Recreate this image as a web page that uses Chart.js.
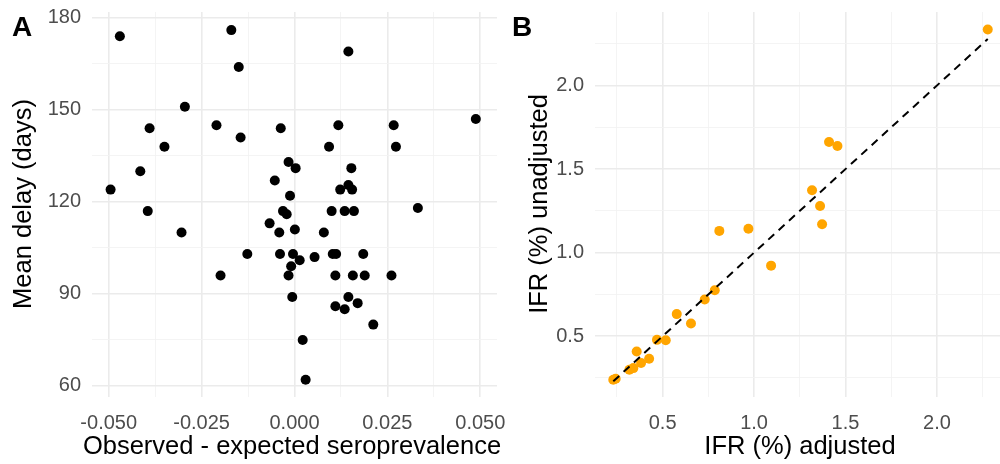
<!DOCTYPE html>
<html>
<head>
<meta charset="utf-8">
<script src="https://cdn.jsdelivr.net/npm/chart.js@4.4.1/dist/chart.umd.min.js"></script>
<style>
  html, body { margin: 0; background: #fff; overflow: hidden; width: 1000px; height: 464px; }
  .panel { position: absolute; top: 0; height: 464px; }
  #wrapA { left: 0; width: 520px; }
  #wrapB { left: 500px; width: 505px; }
</style>
</head>
<body>
<div class="panel" id="wrapA"><canvas id="chartA" width="520" height="464"></canvas></div>
<div class="panel" id="wrapB"><canvas id="chartB" width="505" height="464"></canvas></div>
<script>
// Panel A: observed - expected seroprevalence vs mean delay
var seroDiff = [-0.047, -0.017, -0.015, -0.0295, -0.039, -0.021, -0.035, -0.0145, -0.0415, -0.0495,
  -0.0053, -0.0037, 0.0145, 0.0118, 0.0267, 0.0488, 0.0093, 0.0273, -0.0016, 0.0003,
  0.0153, 0.0123, 0.0145, 0.0155, -0.0012, -0.0395, -0.0304, -0.0199, -0.0127, -0.0067,
  -0.0031, -0.0021, 0.0100, 0.0135, 0.016, 0.0332, -0.0041, 0.0001, 0.0079, -0.0039,
  -0.0004, 0.0014, 0.0054, 0.0103, 0.0112, 0.0185, -0.0009, -0.0016, 0.011, 0.0157,
  0.0189, 0.0261, -0.0006, 0.0145, 0.011, 0.0135, 0.017, 0.0212, 0.0022, 0.003];
var meanDelay = [174, 176, 164, 151, 144, 145, 138, 141, 130, 124,
  127, 144, 169, 145, 145, 147, 138, 138, 133, 131,
  131, 124, 125.5, 124, 122, 117, 110, 96, 103, 113,
  117, 116, 117, 117, 117, 118, 110, 111, 110, 103,
  103, 101, 102, 103, 103, 103, 99, 96, 96, 96,
  96, 96, 89, 89, 86, 85, 87, 80, 75, 62];

// Panel B: IFR adjusted vs unadjusted
var ifrAdjusted = [2.278, 1.41, 1.456, 1.317, 1.361, 1.372, 0.81, 0.969, 1.093, 0.785, 0.73,
  0.577, 0.655, 0.469, 0.517, 0.358, 0.426, 0.382, 0.34, 0.318, 0.243, 0.23];
var ifrUnadjusted = [2.335, 1.662, 1.638, 1.373, 1.279, 1.17, 1.13, 1.143, 0.922, 0.775, 0.719,
  0.632, 0.576, 0.478, 0.476, 0.408, 0.365, 0.339, 0.309, 0.299, 0.245, 0.239];
var identityLine = [0.23, 2.278];

// tick values and labels
var aXMajor = [-0.05, -0.025, 0, 0.025, 0.05];
var aXLabels = ['-0.050', '-0.025', '0.000', '0.025', '0.050'];
var aXMinor = [-0.0375, -0.0125, 0.0125, 0.0375];
var aYMajor = [60, 90, 120, 150, 180];
var aYLabels = ['60', '90', '120', '150', '180'];
var aYMinor = [75, 105, 135, 165];
var bMajor = [0.5, 1.0, 1.5, 2.0];
var bLabels = ['0.5', '1.0', '1.5', '2.0'];
var bMinor = [0.25, 0.75, 1.25, 1.75, 2.25];

var FONT = "'Liberation Sans', Arial, sans-serif";

function isMajor(list, v) {
  for (var i = 0; i < list.length; i++) {
    if (Math.abs(list[i] - v) < 1e-9) return i;
  }
  return -1;
}

function makeAxis(major, labels, minor, min, max, isY, size) {
  var all = major.concat(minor).sort(function(a, b) { return a - b; });
  return {
    type: 'linear',
    min: min,
    max: max,
    border: { display: false },
    grid: {
      drawTicks: false,
      color: function(c) { return isMajor(major, c.tick.value) >= 0 ? '#EBEBEB' : '#F3F3F3'; },
      lineWidth: function(c) { return isMajor(major, c.tick.value) >= 0 ? 1.6 : 0.9; }
    },
    ticks: {
      color: '#4D4D4D',
      font: { family: FONT, size: 20 },
      padding: isY ? 11 : 14,
      maxRotation: 0,
      autoSkip: false,
      callback: function(v) {
        var i = isMajor(major, v);
        return i >= 0 ? labels[i] : '';
      }
    },
    afterBuildTicks: function(scale) {
      scale.ticks = all.map(function(v) { return { value: v }; });
    },
    afterFit: function(scale) {
      if (isY) scale.width = size; else scale.height = size;
      // keep the plot area where the reference has it
      scale.paddingLeft = 0;
      scale.paddingRight = 0;
      scale.paddingTop = 0;
      scale.paddingBottom = 0;
    }
  };
}

function textPlugin(letter, xTitle, yTitle, xTitleX, yTitleX) {
  return {
    id: 'texts' + letter,
    afterDraw: function(chart) {
      var ctx = chart.ctx;
      ctx.save();
      ctx.fillStyle = '#000';
      ctx.font = 'bold 28px ' + FONT;
      ctx.textAlign = 'left';
      ctx.textBaseline = 'alphabetic';
      ctx.fillText(letter, 12, 36);
      ctx.font = '25.5px ' + FONT;
      ctx.textAlign = 'center';
      ctx.textBaseline = 'middle';
      ctx.fillText(xTitle, xTitleX, 447);
      ctx.translate(yTitleX, 204);
      ctx.rotate(-Math.PI / 2);
      ctx.fillText(yTitle, 0, 0);
      ctx.restore();
    }
  };
}

var ptsA = seroDiff.map(function(x, i) { return { x: x, y: meanDelay[i] }; });
var ptsB = ifrAdjusted.map(function(x, i) { return { x: x, y: ifrUnadjusted[i] }; });

new Chart(document.getElementById('chartA').getContext('2d'), {
  type: 'scatter',
  data: {
    datasets: [{
      data: ptsA,
      backgroundColor: '#000',
      borderWidth: 0,
      pointRadius: 5
    }]
  },
  options: {
    responsive: false,
    animation: false,
    // canvas is wider than the panel so the last x label is not cut
    layout: { padding: { top: 12, right: 23, left: 0, bottom: 0 } },
    plugins: { legend: { display: false }, tooltip: { enabled: false } },
    scales: {
      x: makeAxis(aXMajor, aXLabels, aXMinor, -0.0545, 0.0545, false, 67),
      y: makeAxis(aYMajor, aYLabels, aYMinor, 56.4, 181.9, true, 92)
    }
  },
  plugins: [textPlugin('A', 'Observed - expected seroprevalence', 'Mean delay (days)', 292, 24)]
});

new Chart(document.getElementById('chartB').getContext('2d'), {
  type: 'scatter',
  data: {
    datasets: [{
      type: 'line',
      data: identityLine.map(function(v) { return { x: v, y: v }; }),
      borderColor: '#000',
      borderWidth: 2,
      borderDash: [8, 6],
      pointRadius: 0,
      fill: false
    }, {
      data: ptsB,
      backgroundColor: '#FFA500',
      borderWidth: 0,
      pointRadius: 5
    }]
  },
  options: {
    responsive: false,
    animation: false,
    layout: { padding: { top: 12, right: 0, left: 0, bottom: 0 } },
    plugins: { legend: { display: false }, tooltip: { enabled: false } },
    scales: {
      x: makeAxis(bMajor, bLabels, bMinor, 0.13, 2.345, false, 67),
      y: makeAxis(bMajor, bLabels, bMinor, 0.136, 2.44, true, 95)
    }
  },
  plugins: [textPlugin('B', 'IFR (%) adjusted', 'IFR (%) unadjusted', 300, 40)]
});
</script>
</body>
</html>
